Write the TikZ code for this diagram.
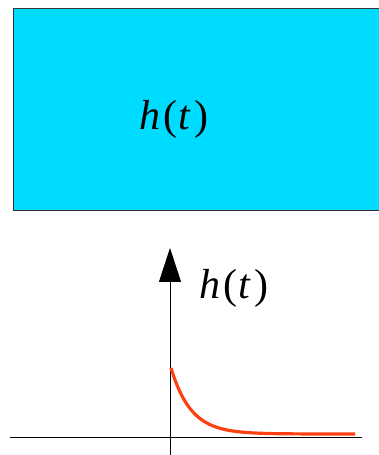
\documentclass[tikz,border=0pt]{standalone}
\usepackage{fontspec}
\newfontfamily\timesfont{Liberation Serif}
\usetikzlibrary{arrows.meta}
\definecolor{boxcyan}{RGB}{0,220,255}
\definecolor{curvered}{RGB}{255,64,16}
\tikzset{
  lbl/.style={font=\timesfont\fontsize{42}{46}\selectfont, inner sep=0pt},
  axis/.style={line width=0.9pt, black}
}
\newcommand{\hoft}{{\itshape h}\kern3pt(\kern1pt{\itshape t}\kern4pt)}

\begin{document}
\begin{tikzpicture}[x=1pt,y=1pt]
\useasboundingbox (0,0) rectangle (378,455);
% Box
\draw[fill=boxcyan, draw=black!80, line width=0.9pt] (13,447) rectangle (385,245);
\node[lbl] (boxlabel) at (174,336) {\hoft};

% Axes
\coordinate (origin) at (170,18);
\coordinate (ytop) at (170,207);
\coordinate (ybot) at (170,0);
\coordinate (xleft) at (10,18);
\coordinate (xright) at (362,18);
\draw[axis] (xleft) -- (xright);
\draw[axis, -{Triangle[length=34pt,width=22pt]}] (ybot) -- (ytop);
\node[lbl] (plotlabel) at (234,167) {\hoft};

% Response
\draw[curvered, line width=3.2pt, domain=0:184, samples=60, smooth]
  plot ({171+\x}, {21+66*exp(-\x/20)});
\end{tikzpicture}
\end{document}
